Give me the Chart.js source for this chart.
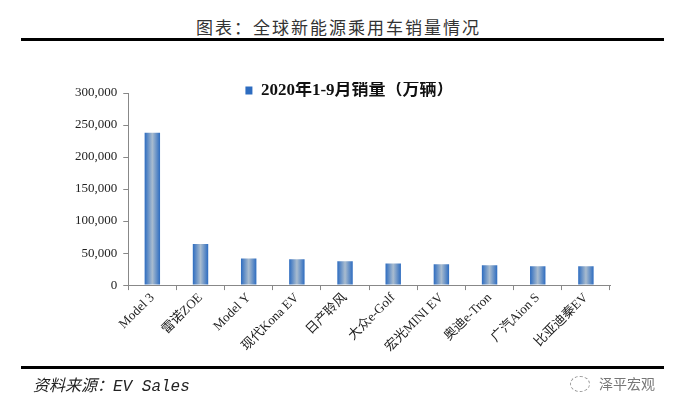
<!DOCTYPE html>
<html>
<head>
<meta charset="utf-8">
<script src="https://cdn.jsdelivr.net/npm/chart.js@4/dist/chart.umd.min.js"></script>
<style>
  html, body { margin: 0; padding: 0; background: #fff; }
  #wrap { position: relative; width: 677px; height: 410px; overflow: hidden; }
  #salesChart { position: absolute; left: 0; top: 0; }
  .title { position: absolute; left: 0; width: 677px; top: 14px; text-align: center;
    font: 17px "Noto Sans CJK SC", sans-serif; letter-spacing: 2px; color: #333; }
  .rule { position: absolute; left: 21px; width: 643px; height: 3px; background: #000; }
  .source { position: absolute; left: 33px; top: 372px; font: italic 16px "Liberation Mono", "Noto Sans CJK SC", monospace; color: #222; }
  .mark { position: absolute; left: 599px; top: 373px; font: 14px "Noto Sans CJK SC", sans-serif; color: #777; }
  .icon { position: absolute; left: 570px; top: 376px; width: 18px; height: 14px; border: 1px dashed #999; border-radius: 50%; }
</style>
</head>
<body>
<div id="wrap">
  <div class="title">图表：全球新能源乘用车销量情况</div>
  <div class="rule" style="top:38px"></div>
  <canvas id="salesChart" width="677" height="410"></canvas>
  <div class="rule" style="top:366px"></div>
  <div class="source">资料来源：EV Sales</div>
  <div class="icon"></div>
  <div class="mark">泽平宏观</div>
</div>
<script>
// ---- data ----
const models = ["Model 3", "雷诺ZOE", "Model Y", "现代Kona EV", "日产聆风",
  "大众e-Golf", "宏光MINI EV", "奥迪e-Tron", "广汽Aion S", "比亚迪秦EV"];
const sales = [238000, 64000, 41500, 40500, 37300, 33700, 32600, 31000, 29600, 29500];
const seriesName = "2020年1-9月销量（万辆）";
const yTicks = [0, 50000, 100000, 150000, 200000, 250000, 300000];

const BAR_PCT = 0.32;

// horizontal gradient per bar, dark blue edges, pale centre
function barFill(c) {
  const chart = c.chart;
  const xs = chart.scales && chart.scales.x;
  if (!xs || c.dataIndex === undefined || !isFinite(xs.width)) return "#4a80c4";
  const cx = xs.getPixelForValue(c.dataIndex);
  const w = (xs.width / models.length) * BAR_PCT;
  const g = chart.ctx.createLinearGradient(cx - w / 2, 0, cx + w / 2, 0);
  g.addColorStop(0, "#2d6cc0");
  g.addColorStop(0.5, "#a9bccf");
  g.addColorStop(1, "#2d6cc0");
  return g;
}

// the legend sits inside the top of the plot in the original, so push it down a bit
const legendDrop = {
  id: "legendDrop",
  afterLayout(chart) {
    const l = chart.legend;
    if (!l) return;
    l.top += 16; l.bottom += 16;
    l.left += 10; l.right += 10;
  },
};

const serif = "'Liberation Serif', 'Noto Sans CJK SC', serif";

new Chart(document.getElementById("salesChart"), {
  type: "bar",
  data: {
    labels: models,
    datasets: [{
      label: seriesName,
      data: sales,
      backgroundColor: barFill,
      borderWidth: 0,
      barPercentage: BAR_PCT,
      categoryPercentage: 1,
    }],
  },
  plugins: [legendDrop],
  options: {
    responsive: false,
    animation: false,
    layout: { padding: { top: 66, left: 69, right: 67, bottom: 55 } },
    plugins: {
      tooltip: { enabled: false },
      legend: {
        position: "top",
        labels: {
          padding: 0,
          boxWidth: 7,
          boxHeight: 8,
          color: "#111",
          font: { family: serif, size: 17, weight: "bold" },
        },
      },
    },
    scales: {
      x: {
        grid: { offset: true, drawOnChartArea: false, drawTicks: true, tickLength: 5, color: "#888" },
        border: { color: "#888" },
        ticks: {
          minRotation: 45, maxRotation: 45, padding: 0, color: "#222",
          font: { family: serif, size: 13 },
        },
      },
      y: {
        min: 0,
        max: 300000,
        afterBuildTicks: (s) => { s.ticks = yTicks.map((v) => ({ value: v })); },
        grid: { drawOnChartArea: false, drawTicks: true, tickLength: 5, color: "#888" },
        border: { color: "#888" },
        ticks: {
          color: "#222", padding: 6,
          font: { family: serif, size: 13 },
          callback: (v) => v.toLocaleString("en-US"),
        },
      },
    },
  },
});
</script>
</body>
</html>
